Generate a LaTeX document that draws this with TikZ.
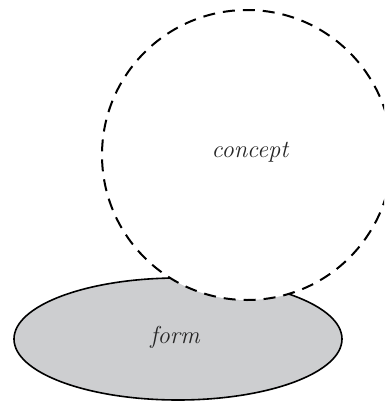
\documentclass[tikz,border=0pt]{standalone}
\usepackage{tikz}
\usetikzlibrary{shapes.geometric}
\definecolor{formgray}{HTML}{CDCED0}
\tikzset{
  formshape/.style={ellipse, draw=black, line width=1.6pt, fill=formgray, minimum width=328pt, minimum height=122pt, inner sep=0pt},
  conceptshape/.style={circle, draw=black, line width=2pt, fill=white, dash pattern=on 12pt off 8pt, minimum size=290pt, inner sep=0pt},
  lbl/.style={font=\fontsize{24.5}{27}\selectfont\itshape, text=black!85}
}
\begin{document}
\begin{tikzpicture}[x=1pt,y=-1pt]
\useasboundingbox (0,0) rectangle (384,402);
\clip (0,0) rectangle (384,402);
\node[formshape] (form) at (178,339) {};
\node[conceptshape] (concept) at (247,155) {};
\node[lbl] (formlbl) at (175,337) {form};
\node[lbl] (conceptlbl) at (250,152) {concept};
\end{tikzpicture}
\end{document}
